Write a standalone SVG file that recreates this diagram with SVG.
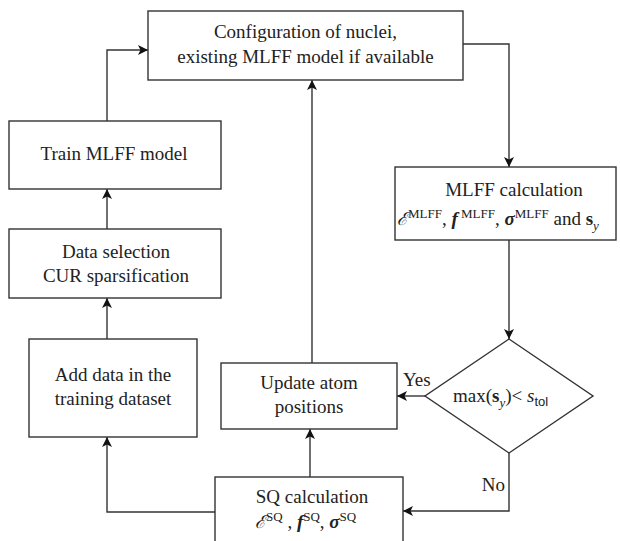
<svg xmlns="http://www.w3.org/2000/svg" width="620" height="541" viewBox="0 0 620 541">
<style>
.box{fill:#fff;stroke:#333;stroke-width:1.4}
.t{font-family:"Liberation Serif","Times New Roman",serif;font-size:19px;fill:#222}
.c{text-anchor:middle}
.sup{font-size:13px}
.scr{font-family:"DejaVu Serif","Liberation Serif",serif;font-style:italic;font-size:18px}
.ln{fill:none;stroke:#333;stroke-width:1.4}
</style>
<defs>
<marker id="ah" viewBox="0 0 10 10" refX="10" refY="5" markerWidth="10" markerHeight="10" markerUnits="userSpaceOnUse" orient="auto">
<path d="M0,0 L10,5 L0,10 L2.5,5 Z" fill="#111"/>
</marker>
</defs>
<rect width="620" height="541" fill="#fff"/>
<g id="connectors">
<polyline class="ln" points="107,121 107,50 148,50" marker-end="url(#ah)"/>
<polyline class="ln" points="463,44 509,44 509,167" marker-end="url(#ah)"/>
<polyline class="ln" points="509,240 509,339" marker-end="url(#ah)"/>
<polyline class="ln" points="425,396 397,396" marker-end="url(#ah)"/>
<polyline class="ln" points="509,453 509,511 403,511" marker-end="url(#ah)"/>
<polyline class="ln" points="310,477 310,429" marker-end="url(#ah)"/>
<polyline class="ln" points="312,363 312,80" marker-end="url(#ah)"/>
<polyline class="ln" points="215,512 107,512 107,437" marker-end="url(#ah)"/>
<polyline class="ln" points="107,339 107,298" marker-end="url(#ah)"/>
<polyline class="ln" points="107,229 107,189" marker-end="url(#ah)"/>
<text class="t" x="403" y="386">Yes</text>
<text class="t" x="505" y="491" text-anchor="end">No</text>
</g>
<g id="config">
<rect class="box" x="148" y="11" width="315" height="69"/>
<text class="t c" x="305.5" y="38">Configuration of nuclei,</text>
<text class="t c" x="305.5" y="63">existing MLFF model if available</text>
</g>
<g id="train">
<rect class="box" x="9" y="121" width="212" height="68"/>
<text class="t c" x="114" y="160">Train MLFF model</text>
</g>
<g id="dataselection">
<rect class="box" x="9" y="229" width="212" height="69"/>
<text class="t c" x="116" y="258">Data selection</text>
<text class="t c" x="116" y="282">CUR sparsification</text>
</g>
<g id="adddata">
<rect class="box" x="29" y="339" width="168" height="98"/>
<text class="t c" x="113" y="381">Add data in the</text>
<text class="t c" x="113" y="405">training dataset</text>
</g>
<g id="mlff">
<rect class="box" x="395" y="167" width="221" height="73"/>
<text class="t c" x="514" y="196">MLFF calculation</text>
<text class="t" x="397" y="225"><tspan class="scr">ℰ</tspan><tspan class="sup" dy="-7">MLFF</tspan><tspan dy="7">, </tspan><tspan font-weight="bold" font-style="italic">f</tspan><tspan class="sup" dy="-7"> MLFF</tspan><tspan dy="7">, </tspan><tspan font-weight="bold" font-style="italic">σ</tspan><tspan class="sup" dy="-7">MLFF</tspan><tspan dy="7"> and </tspan><tspan font-weight="bold">s</tspan><tspan class="sup" font-style="italic" dy="5">y</tspan></text>
</g>
<g id="decision">
<polygon class="box" points="509,339 593,396 509,453 425,396"/>
<text class="t" x="453" y="402">max(<tspan font-weight="bold">s</tspan><tspan class="sup" font-style="italic" dy="5">y</tspan><tspan dy="-5">)&lt; </tspan><tspan font-style="italic">s</tspan><tspan font-family="Liberation Sans,Arial,sans-serif" font-size="13" dy="4">tol</tspan></text>
</g>
<g id="update">
<rect class="box" x="221" y="363" width="176" height="66"/>
<text class="t c" x="309" y="389">Update atom</text>
<text class="t c" x="309" y="413">positions</text>
</g>
<g id="sq">
<rect class="box" x="215" y="477" width="188" height="70"/>
<text class="t c" x="312" y="503">SQ calculation</text>
<text class="t" x="255" y="528"><tspan class="scr">ℰ</tspan><tspan class="sup" dy="-7">SQ</tspan><tspan dy="7"> , </tspan><tspan font-weight="bold" font-style="italic">f</tspan><tspan class="sup" dy="-7">SQ</tspan><tspan dy="7">, </tspan><tspan font-weight="bold" font-style="italic">σ</tspan><tspan class="sup" dy="-7">SQ</tspan></text>
</g>
</svg>
